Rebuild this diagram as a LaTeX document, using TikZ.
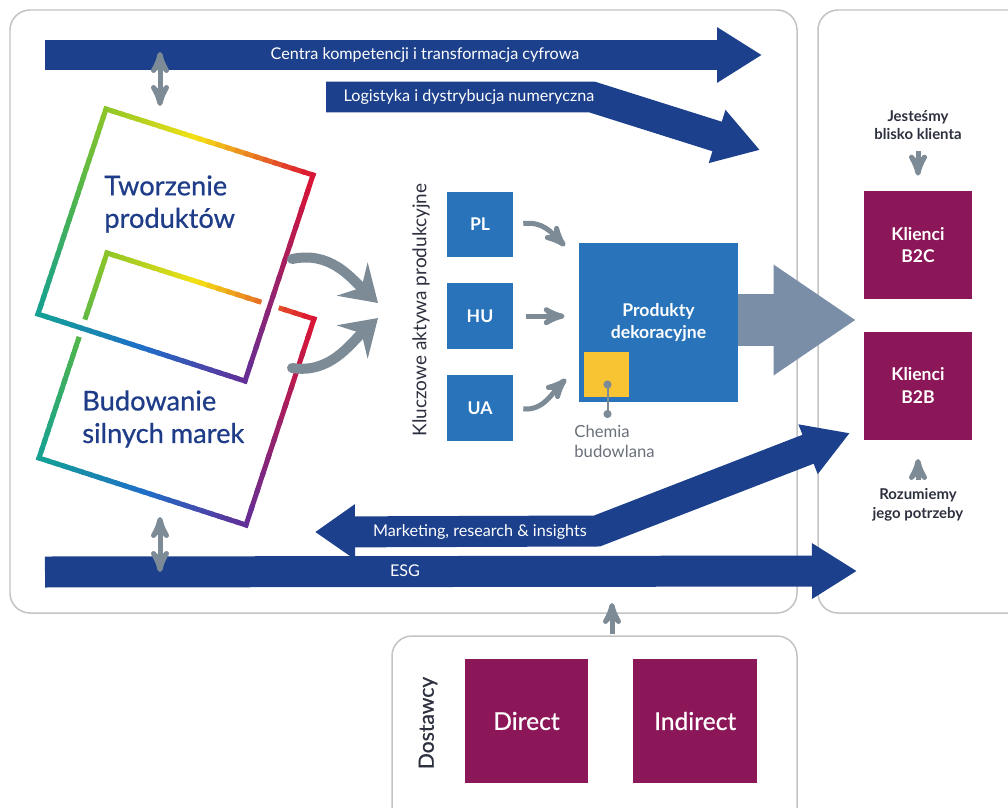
\documentclass[tikz,border=0pt]{standalone}
\usepackage{fontspec}
\setmainfont{Lato}
\newfontfamily\latomed{Lato}[FakeBold=0.7]
\usepackage{tikz}
\usetikzlibrary{positioning, calc, arrows, arrows.meta}

\definecolor{bandblue}{RGB}{28,64,140}
\definecolor{boxblue}{RGB}{40,115,186}
\definecolor{plum}{RGB}{139,22,88}
\definecolor{sun}{RGB}{249,196,51}
\definecolor{slate}{RGB}{125,139,150}
\definecolor{steel}{RGB}{122,142,168}
\definecolor{navy}{RGB}{30,60,135}
\definecolor{ink}{RGB}{45,48,62}
\definecolor{mist}{RGB}{105,112,122}
\definecolor{frame}{RGB}{195,195,195}
\definecolor{gA}{RGB}{140,198,40}
\definecolor{gB}{RGB}{245,225,20}
\definecolor{gC}{RGB}{220,20,50}
\definecolor{gD}{RGB}{100,45,150}
\definecolor{gE}{RGB}{30,110,200}
\definecolor{gF}{RGB}{20,160,150}
\definecolor{gG}{RGB}{70,178,85}

\newcommand\gradline[4]{%
  \foreach \k in {1,...,12}{%
    \pgfmathsetmacro\pa{(\k-1)/12}%
    \pgfmathsetmacro\pb{\k/12}%
    \pgfmathsetmacro\mx{100*(\k-0.5)/12}%
    \draw[gradedge, color={#4!\mx!#3}] ($(#1)!\pa!(#2)$) -- ($(#1)!\pb!(#2)$);
  }}
\newcommand\gradsquare[1]{%
  \coordinate (#1m1) at ($(#1A)!0.45!(#1B)$);
  \coordinate (#1m2) at ($(#1C)!0.5!(#1D)$);
  \coordinate (#1m3) at ($(#1D)!0.5!(#1A)$);
  \gradline{#1A}{#1m1}{gA}{gB}
  \gradline{#1m1}{#1B}{gB}{gC}
  \gradline{#1B}{#1C}{gC}{gD}
  \gradline{#1C}{#1m2}{gD}{gE}
  \gradline{#1m2}{#1D}{gE}{gF}
  \gradline{#1D}{#1m3}{gF}{gG}
  \gradline{#1m3}{#1A}{gG}{gA}}

\begin{document}
\begin{tikzpicture}[x=0.02cm, y=-0.02cm, >=stealth',
  panel/.style={draw=frame, line width=0.3mm, rounded corners=4mm},
  band/.style={draw=bandblue, line width=6.2mm, line join=miter, -{Triangle[length=9mm, width=10.5mm]}},
  bandtext/.style={text=white, font=\fontsize{9.2}{11}\selectfont},
  garrow/.style={->, draw=slate, line width=1mm},
  bigcurve/.style={draw=slate, line width=2mm, line cap=round, -{Stealth[length=7mm, width=9mm, inset=2.5mm]}},
  sqtext/.style={text=navy, font=\fontsize{15.5}{18.5}\selectfont\latomed, align=left, inner sep=0pt, anchor=west},
  site/.style={fill=boxblue, text=white, minimum size=13.2mm, inner sep=0pt, font=\fontsize{10}{12}\selectfont\bfseries},
  client/.style={fill=plum, text=white, minimum size=21.6mm, inner sep=0pt, align=center, font=\fontsize{10}{13}\selectfont\bfseries},
  supplier/.style={fill=plum, text=white, minimum size=24.8mm, inner sep=0pt, font=\fontsize{14}{16}\selectfont\latomed},
  note/.style={text=ink, align=center, font=\fontsize{8.5}{10.5}\selectfont\bfseries},
  gradedge/.style={line width=1mm, line cap=rect}]
  \useasboundingbox (0,0) rectangle (1008,808);
  \clip (0,0) rectangle (1008,808);

  \draw[panel] (10,10) rectangle (797,613);
  \draw[panel] (818,10) rectangle (1040,613);
  \draw[panel] (392,636) rectangle (797,840);

  \coordinate (cenS) at (45,55);   \coordinate (cenE) at (762,55);
  \coordinate (logS) at (326,97);  \coordinate (logK) at (592,97);  \coordinate (logE) at (760,150);
  \coordinate (marS) at (315,532); \coordinate (marK) at (597,531); \coordinate (marE) at (850,433);
  \coordinate (esgS) at (45,572);  \coordinate (esgE) at (857,571);
  \draw[band] (cenS) -- (cenE);
  \draw[band] (logS) -- (logK) -- (logE);
  \draw[band, {Triangle[length=8mm, width=10.5mm]}-{Triangle[length=9mm, width=10mm]}] (marS) -- (marK) -- (marE);
  \draw[band] (esgS) -- (esgE);
  \node[bandtext] (centra) at (425,55) {Centra kompetencji i transformacja cyfrowa};
  \node[bandtext] (logist) at (469,97) {Logistyka i dystrybucja numeryczna};
  \node[bandtext] (market) at (480,532) {Marketing, research \& insights};
  \node[bandtext] (esg) at (405,571) {ESG};

  \coordinate (bA) at (107,253); \coordinate (bB) at (314,319);
  \coordinate (bC) at (246,525); \coordinate (bD) at (39,458);
  \coordinate (tA) at (106,109); \coordinate (tB) at (313,175);
  \coordinate (tC) at (245,381); \coordinate (tD) at (38,314);
  \gradsquare{b}
  \draw[white, line width=3.6mm, line join=miter] (tA) -- (tB) -- (tC) -- (tD) -- cycle;
  \gradsquare{t}
  \node[sqtext] (tworz) at (104,204) {Tworzenie\\produktów};
  \node[sqtext] (budow) at (82,419) {Budowanie\\silnych marek};

  \coordinate (digTop) at (160,52);  \coordinate (digBot) at (160,106);
  \coordinate (esgTop) at (160,517); \coordinate (esgBot) at (160,572);
  \draw[garrow, <->] (digBot) -- (digTop);
  \draw[garrow, <->] (esgTop) -- (esgBot);

  \coordinate (tOut) at (292,259); \coordinate (hubT) at (378,303);
  \coordinate (bOut) at (292,368); \coordinate (hubB) at (378,318);
  \draw[bigcurve] (tOut) .. controls +(38,-8) and +(-28,-26) .. (hubT);
  \draw[bigcurve] (bOut) .. controls +(38,6) and +(-28,26) .. (hubB);

  \node[rotate=90, text=ink, font=\fontsize{10.8}{13}\selectfont] (klucz) at (421,310) {Kluczowe aktywa produkcyjne};
  \node[site] (pl) at (480,224.5) {PL};
  \node[site, below=5mm of pl] (hu) {HU};
  \node[site, below=5mm of hu] (ua) {UA};
  \node[fill=boxblue, text=white, minimum size=31.8mm, inner sep=0pt, align=center,
        font=\fontsize{10}{13}\selectfont\bfseries] (prod) at (658.5,322.5) {Produkty\\dekoracyjne};
  \node[fill=sun, minimum size=9mm, inner sep=0pt, anchor=south west] (chem) at ($(prod.south west)+(5,-5)$) {};
  \node[anchor=north west, inner sep=0pt, text=mist, align=left,
        font=\fontsize{9.5}{11.5}\selectfont] (chemtxt) at (574,425) {Chemia\\budowlana};
  \coordinate (chemDot) at ($(chem.center)+(1,6)$);
  \coordinate (chemEnd) at (chemDot |- 0,418);
  \draw[draw=slate, line width=0.4mm, {Circle[length=1.6mm]}-{Circle[length=1.6mm]}] (chemDot) -- (chemEnd);

  \coordinate (plIn) at (565,246);
  \coordinate (uaIn) at (566,379);
  \draw[garrow, shorten <=2mm] (pl.east) .. controls +(30,-3) and +(-14,-14) .. (plIn);
  \draw[garrow, shorten <=2.6mm, shorten >=2.8mm] (hu) -- (prod.west |- hu);
  \draw[garrow, shorten <=2mm] (ua.east) .. controls +(30,3) and +(-14,14) .. (uaIn);

  \coordinate (custIn) at (856,320);
  \draw[draw=steel, line width=10.4mm, -{Triangle[length=16.5mm, width=21mm]}] (prod.east |- custIn) -- (custIn);

  \node[client] (b2c) at (918,245) {Klienci\\B2C};
  \node[client, below=6.4mm of b2c] (b2b) {Klienci\\B2B};
  \node[note] (blisko) at (918,125) {Jesteśmy\\blisko klienta};
  \node[note] (potrzeby) at (918,505) {Rozumiemy\\jego potrzeby};
  \draw[garrow, shorten <=1mm, shorten >=3mm] (blisko) -- (b2c);
  \draw[garrow, shorten <=0.5mm, shorten >=3.8mm] (potrzeby) -- (b2b);

  \node[supplier] (direct) at (526.5,721) {Direct};
  \node[supplier, right=8.8mm of direct] (indirect) {Indirect};
  \node[rotate=90, text=ink, font=\fontsize{12}{14}\selectfont\latomed] (dostawcy) at (428,723) {Dostawcy};
  \coordinate (supOut) at (612,634); \coordinate (supIn) at (612,603);
  \draw[garrow] (supOut) -- (supIn);
\end{tikzpicture}
\end{document}
